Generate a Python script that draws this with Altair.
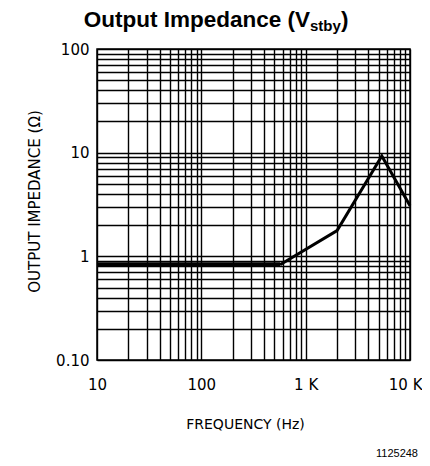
import altair as alt
import pandas as pd

# ---- data ----
freq_hz = [10, 568, 2000, 5370, 10000]
impedance_ohm = [0.83, 0.83, 1.77, 9.3, 3.08]

x_grid = [10, 20, 30, 40, 50, 60, 70, 80, 90,
          100, 200, 300, 400, 500, 600, 700, 800, 900,
          1000, 2000, 3000, 4000, 5000, 6000, 7000, 8000, 9000, 10000]
y_grid = [0.1, 0.2, 0.3, 0.4, 0.5, 0.6, 0.7, 0.8, 0.9,
          1, 2, 3, 4, 5, 6, 7, 8, 9,
          10, 20, 30, 40, 50, 60, 70, 80, 90, 100]

x_tick_values = [10, 100, 1000, 10000]
x_tick_text = ["10", "100", "1 K", "10 K"]
y_tick_values = [0.1, 1, 10, 100]
y_tick_text = ["0.10", "1", "10", "100"]

title_main = ["Output Impedance (V"]
title_sub = ["stby"]
title_close = [")"]
figure_id = ["1125248"]
x_title = "FREQUENCY (Hz)"
y_title = "OUTPUT IMPEDANCE (\u03a9)"


def label_expr(values, texts):
    expr = "''"
    for v, t in reversed(list(zip(values, texts))):
        expr = f"abs(datum.value - {v}) < {v} * 1e-6 ? '{t}' : ({expr})"
    return expr


df = pd.DataFrame({"freq": freq_hz, "imp": impedance_ohm})

xs = alt.Scale(type="log", domain=[10, 10000], nice=False)
ys = alt.Scale(type="log", domain=[0.1, 100], nice=False)

common_axis = dict(
    grid=True, gridColor="black", gridWidth=1.4, gridOpacity=1,
    ticks=False, domain=False, labelFlush=False, labelOverlap=False,
    labelFont="DejaVu Sans", labelFontSize=15, labelColor="black",
    titleFont="DejaVu Sans", titleFontWeight="normal", titleColor="black",
)

x_axis = alt.Axis(
    values=x_grid, labelExpr=label_expr(x_tick_values, x_tick_text),
    labelAlign={"condition": {"test": "datum.value >= 9999", "value": "right"},
                "value": "center"},
    labelOffset={"condition": {"test": "datum.value >= 9999", "value": 12},
                 "value": 0},
    title=x_title, labelPadding=17, titleFontSize=14,
    titleX=148, titleY=68, titleAlign="center", titleBaseline="alphabetic",
    **common_axis,
)
y_axis = alt.Axis(
    values=y_grid, labelExpr=label_expr(y_tick_values, y_tick_text),
    title=y_title, labelPadding=8, titleFontSize=15,
    titleX=-58, titleY=152, titleAngle=270, titleAlign="center",
    titleBaseline="alphabetic",
    **common_axis,
)

base = alt.Chart(df).encode(
    x=alt.X("freq:Q", scale=xs, axis=x_axis),
    y=alt.Y("imp:Q", scale=ys, axis=y_axis),
)

flat = base.transform_filter("datum.freq <= 568").mark_line(
    color="black", strokeWidth=4.8, strokeCap="butt")
rise = base.transform_filter("datum.freq >= 568").mark_line(
    color="black", strokeWidth=3, strokeJoin="miter", strokeCap="butt")

t_main = alt.Chart(pd.DataFrame({"t": title_main})).mark_text(
    font="Liberation Sans", fontSize=22.5, fontWeight="bold",
    align="right", baseline="alphabetic", color="black",
).encode(x=alt.value(213), y=alt.value(-22), text="t:N")

t_sub = alt.Chart(pd.DataFrame({"t": title_sub})).mark_text(
    font="Liberation Sans", fontSize=15, fontWeight="bold",
    align="left", baseline="alphabetic", color="black",
).encode(x=alt.value(213), y=alt.value(-18), text="t:N")

t_close = alt.Chart(pd.DataFrame({"t": title_close})).mark_text(
    font="Liberation Sans", fontSize=22.5, fontWeight="bold",
    align="left", baseline="alphabetic", color="black",
).encode(x=alt.value(244), y=alt.value(-22), text="t:N")

t_id = alt.Chart(pd.DataFrame({"t": figure_id})).mark_text(
    font="Liberation Sans", fontSize=11,
    align="right", baseline="alphabetic", color="black",
).encode(x=alt.value(321), y=alt.value(408), text="t:N")

chart = alt.layer(flat, rise, t_main, t_sub, t_close, t_id).properties(
    width=313, height=311,
    autosize=alt.AutoSizeParams(type="none"),
    padding={"left": 89, "top": 41, "right": 12, "bottom": 98},
).configure_view(stroke="black", strokeWidth=1.5)

chart.save("out.html", embed_options={"renderer": "svg", "actions": False})
